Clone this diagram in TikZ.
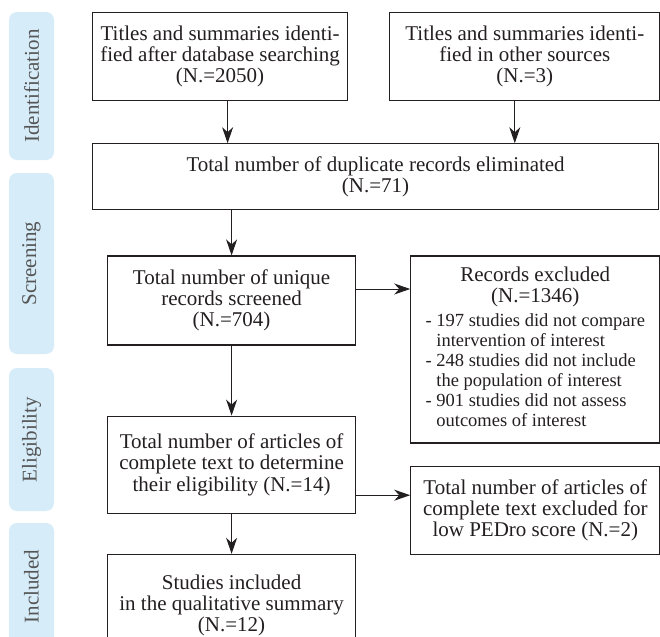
\documentclass[tikz,border=0pt]{standalone}
\usepackage{fontspec}
\setmainfont{Liberation Serif}
\usetikzlibrary{arrows.meta,positioning}
\definecolor{ink}{RGB}{35,31,32}
\definecolor{phasefill}{RGB}{214,236,249}
\definecolor{phasetext}{RGB}{85,85,85}

\begin{document}
\begin{tikzpicture}[
  every node/.style={font=\fontsize{10.5pt}{10.6pt}\selectfont},
  box/.style={draw=ink,line width=0.6pt,text=ink,align=center,inner sep=2pt},
  phase/.style={fill=phasefill,text=phasetext,rounded corners=4pt,rotate=90,
    minimum height=22.5pt,inner sep=0pt},
  arr/.style={-{Stealth[length=8pt,width=5.5pt,inset=2.5pt]},ink,line width=0.5pt}]
\useasboundingbox (0,0) rectangle (330pt,-318.5pt);
\clip (0,0) rectangle (330pt,-318.5pt);
\node[phase,minimum width=74pt] (idp) at (15.75pt,-43pt) {Identification};
\node[phase,minimum width=90.5pt] (scp) at (15.75pt,-131.75pt) {Screening};
\node[phase,minimum width=71.5pt] (elp) at (15.75pt,-219.75pt) {Eligibility};
\node[phase,minimum width=63.5pt] (inp) at (15.75pt,-293.25pt) {Included};
\node[box,minimum width=127.5pt,minimum height=44pt,anchor=north west] (db)
  at (46pt,-6pt) {Titles and summaries identi-\\fied after database searching\\(N.=2050)};
\node[box,minimum width=135pt,minimum height=44pt,right=20.5pt of db] (oth)
  {Titles and summaries identi-\\fied in other sources\\(N.=3)};
\node[box,minimum width=283pt,minimum height=33pt,
  below=21pt of db.south west,anchor=north west] (dup)
  {Total number of duplicate records eliminated\\(N.=71)};
\node[box,minimum width=124pt,minimum height=44.5pt,
  below=22.5pt of dup.south west,anchor=north west,xshift=7.5pt] (uniq)
  {Total number of unique\\records screened\\(N.=704)};
\node[box,minimum width=124.5pt,minimum height=93.5pt,
  right=27pt of uniq.north east,anchor=north west] (excl)
  {Records excluded\\(N.=1346)\\[1.5pt]
   {\fontsize{9.25pt}{10pt}\selectfont
   \begin{tabular}[t]{@{}l@{}}
   - 197 studies did not compare\\
   \phantom{- }intervention of interest\\
   - 248 studies did not include\\
   \phantom{- }the population of interest\\
   - 901 studies did not assess\\
   \phantom{- }outcomes of interest
   \end{tabular}}};
\node[box,minimum width=124pt,minimum height=48.5pt,below=35pt of uniq] (elig)
  {Total number of articles of\\complete text to determine\\their eligibility (N.=14)};
\node[box,minimum width=124.5pt,minimum height=44pt,below=11pt of excl] (pedro)
  {Total number of articles of\\complete text excluded for\\low PEDro score (N.=2)};
\node[box,minimum width=124pt,minimum height=51pt,below=20pt of elig] (incl)
  {Studies included\\in the qualitative summary\\(N.=12)};
\coordinate[xshift=3.75pt] (dbout) at (db.south);
\coordinate[xshift=-5pt] (othout) at (oth.south);
\coordinate[yshift=5.75pt] (uniqout) at (uniq.east);
\coordinate[yshift=-15.25pt] (eligout) at (elig.east);
\draw[arr] (dbout) -- (dbout |- dup.north);
\draw[arr] (othout) -- (othout |- dup.north);
\draw[arr] (dup.south -| uniq.north) -- (uniq.north);
\draw[arr] (uniqout) -- (uniqout -| excl.west);
\draw[arr] (uniq) -- (elig);
\draw[arr] (eligout) -- (eligout -| pedro.west);
\draw[arr] (elig) -- (incl);
\end{tikzpicture}
\end{document}
